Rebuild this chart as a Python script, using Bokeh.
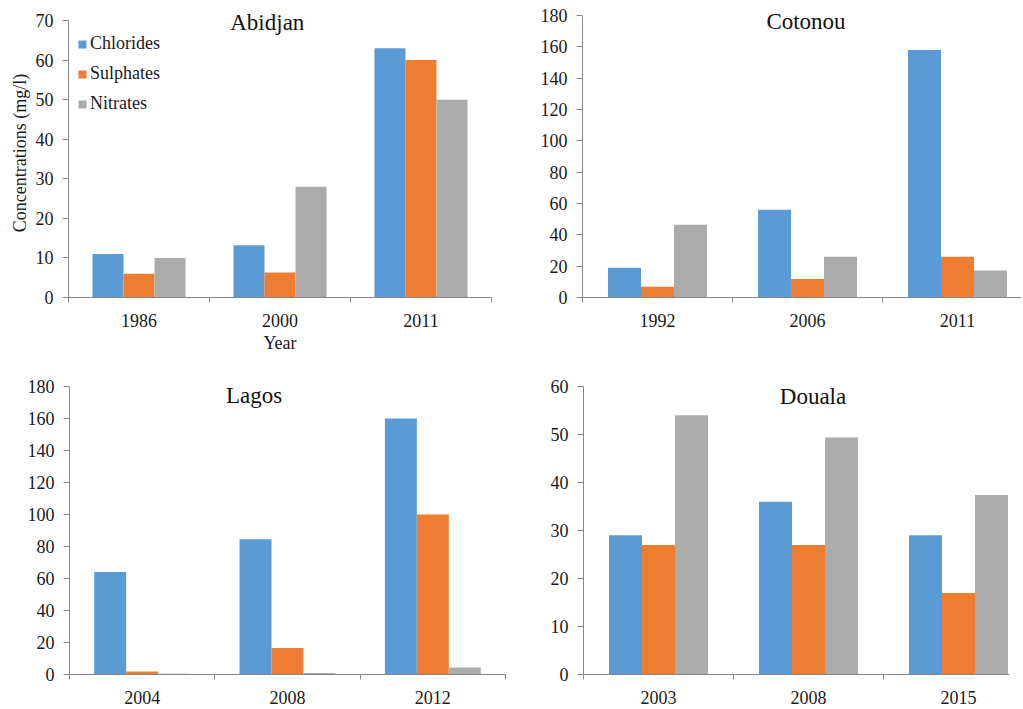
from bokeh.plotting import figure
from bokeh.models import (FixedTicker, SingleIntervalTicker, Legend, LegendItem,
                          Label, Range1d, ColumnDataSource)
from bokeh.layouts import column, row
from bokeh.embed import file_html
from bokeh.resources import INLINE

series = ["Chlorides", "Sulphates", "Nitrates"]
colors = ["#5B9BD5", "#ED7D31", "#ABABAB"]

abidjan_years = ["1986", "2000", "2011"]
abidjan_chlorides = [11, 13.2, 63]
abidjan_sulphates = [6, 6.3, 60]
abidjan_nitrates = [10, 28, 50]

cotonou_years = ["1992", "2006", "2011"]
cotonou_chlorides = [19, 56, 158]
cotonou_sulphates = [6.8, 11.8, 26]
cotonou_nitrates = [46.4, 26, 17.3]

lagos_years = ["2004", "2008", "2012"]
lagos_chlorides = [64, 84.5, 160]
lagos_sulphates = [1.9, 16.5, 100]
lagos_nitrates = [0.4, 1.0, 4.4]

douala_years = ["2003", "2008", "2015"]
douala_chlorides = [29, 36, 29]
douala_sulphates = [27, 27, 17]
douala_nitrates = [54, 49.4, 37.4]

FONT = "Liberation Serif"
AXIS_COLOR = "#868686"
TEXT_COLOR = "#1a1a1a"
BAR_W = 0.22


def panel(title, years, data, ymax, yend, ystep, width, height, borders, xend,
          title_xy, ylabel=None, xlabel=None, legend_loc=None):
    left, right, top, bottom = borders
    p = figure(width=width, height=height, output_backend="svg",
               toolbar_location=None, x_range=Range1d(0, xend),
               y_range=Range1d(0, yend), min_border_left=left,
               min_border_right=right, min_border_top=top,
               min_border_bottom=bottom)
    p.outline_line_color = None
    p.xgrid.visible = False
    p.ygrid.visible = False
    p.background_fill_color = "white"

    renderers = []
    for j, (vals, color) in enumerate(zip(data, colors)):
        xs = [i + 0.5 + (j - 1) * BAR_W for i in range(len(years))]
        src = ColumnDataSource(dict(x=xs, top=vals, year=years))
        r = p.vbar(x="x", top="top", width=BAR_W, source=src,
                   fill_color=color, line_color=None)
        renderers.append(r)

    xa = p.xaxis[0]
    xa.ticker = FixedTicker(ticks=[i + 0.5 for i in range(len(years))],
                            minor_ticks=list(range(len(years) + 1)))
    xa.major_label_overrides = {i + 0.5: y for i, y in enumerate(years)}
    xa.major_tick_out = 0
    xa.major_tick_in = 0
    xa.minor_tick_out = 5
    xa.minor_tick_in = 0
    xa.minor_tick_line_color = AXIS_COLOR
    xa.axis_line_color = AXIS_COLOR
    xa.major_label_standoff = 11
    xa.major_label_text_font = FONT
    xa.major_label_text_font_size = "18px"
    xa.major_label_text_color = TEXT_COLOR
    if xlabel:
        xa.axis_label = xlabel
        xa.axis_label_text_font = FONT
        xa.axis_label_text_font_style = "normal"
        xa.axis_label_text_font_size = "18px"
        xa.axis_label_text_color = TEXT_COLOR
        xa.axis_label_standoff = 3

    ya = p.yaxis[0]
    ya.bounds = (0, ymax)
    ya.ticker = SingleIntervalTicker(interval=ystep, num_minor_ticks=0)
    ya.major_tick_out = 6
    ya.major_tick_in = 0
    ya.minor_tick_line_color = None
    ya.major_tick_line_color = AXIS_COLOR
    ya.axis_line_color = AXIS_COLOR
    ya.major_label_standoff = 9
    ya.major_label_text_font = FONT
    ya.major_label_text_font_size = "18px"
    ya.major_label_text_color = TEXT_COLOR
    if ylabel:
        ya.axis_label = ylabel
        ya.axis_label_text_font = FONT
        ya.axis_label_text_font_style = "normal"
        ya.axis_label_text_font_size = "18px"
        ya.axis_label_text_color = TEXT_COLOR
        ya.axis_label_standoff = 3

    p.add_layout(Label(x=title_xy[0], y=title_xy[1], text=title,
                       text_font=FONT, text_font_size="23px",
                       text_color="#111111", text_align="center",
                       text_baseline="alphabetic"))

    if legend_loc is not None:
        items = [LegendItem(label=s, renderers=[r])
                 for s, r in zip(series, renderers)]
        lg = Legend(items=items, location=legend_loc, padding=0, margin=0,
                    spacing=9, glyph_width=10, glyph_height=10,
                    label_standoff=3, label_height=20,
                    label_text_font=FONT, label_text_font_size="18px",
                    label_text_color=TEXT_COLOR, border_line_color=None,
                    background_fill_alpha=0)
        p.add_layout(lg)
    return p


# top row: frames span page y 8..297 ; bottom row: 378..674
p1 = panel("Abidjan", abidjan_years,
           [abidjan_chlorides, abidjan_sulphates, abidjan_nitrates],
           70, 70 * 289 / 277, 10, 511, 360, (68, 20, 8, 63), 3.0, (1.41, 69.4),
           ylabel="Concentrations (mg/l)", xlabel="Year", legend_loc=(9, 183))
p2 = panel("Cotonou", cotonou_years,
           [cotonou_chlorides, cotonou_sulphates, cotonou_nitrates],
           180, 180 * 289 / 282, 20, 510, 360, (71, 0, 8, 63), 439 / 150,
           (1.49, 176))
p3 = panel("Lagos", lagos_years,
           [lagos_chlorides, lagos_sulphates, lagos_nitrates],
           180, 180 * 296 / 288, 20, 511, 347, (69, 6, 18, 33), 3.0,
           (1.27, 174.2))
p4 = panel("Douala", douala_years,
           [douala_chlorides, douala_sulphates, douala_nitrates],
           60, 60 * 296 / 288, 10, 510, 347, (72, 12, 18, 33), 426 / 150,
           (1.53, 57.9))

layout = column(row(p1, p2), row(p3, p4))
open("out.html", "w").write(file_html(layout, INLINE))
